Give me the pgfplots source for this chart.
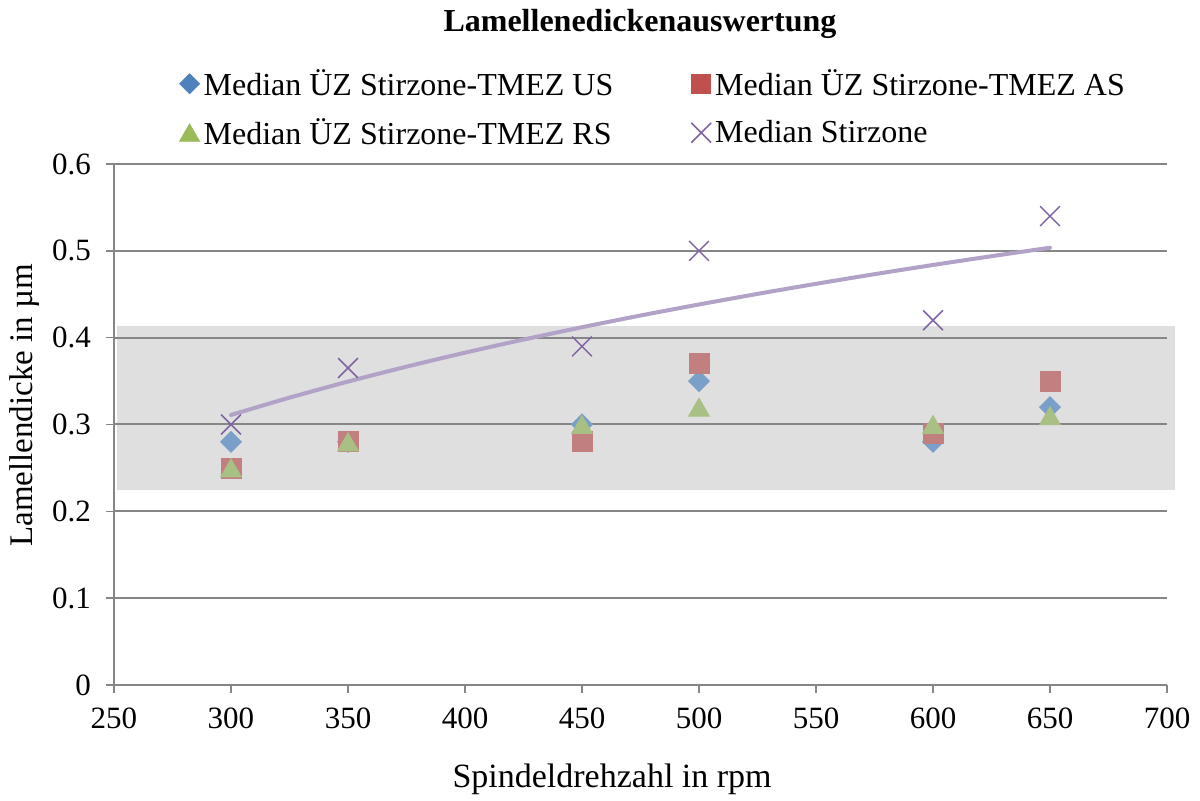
\documentclass[border=0pt]{standalone}
\usepackage{pgfplots}
\pgfplotsset{compat=1.18}
\usepackage{fontspec}
\setmainfont{Liberation Serif}
\definecolor{cUS}{RGB}{122,159,200}
\definecolor{cAS}{RGB}{194,127,127}
\definecolor{cRS}{RGB}{168,192,131}
\definecolor{cST}{RGB}{128,100,162}
\definecolor{lUS}{RGB}{79,129,189}
\definecolor{lAS}{RGB}{192,80,77}
\definecolor{lRS}{RGB}{155,187,89}
\definecolor{trend}{RGB}{179,162,199}
\definecolor{band}{RGB}{223,223,223}
\definecolor{gridc}{RGB}{134,134,134}
\begin{document}
\begin{tikzpicture}
\begin{axis}[
  at={(0,0)}, anchor=south west,
  scale only axis, width=526.5pt, height=260.5pt,
  set layers,
  clip=false,
  xmin=250, xmax=700, ymin=0, ymax=0.6,
  xtick={250,300,...,700},
  ytick={0,0.1,...,0.6},
  axis x line=bottom, axis y line=left,
  axis line style={-, draw=gridc, line width=1pt},
  tick align=outside,
  major tick length=4pt,
  tick style={draw=gridc, line width=0.8pt},
  ymajorgrids, grid style={draw=gridc, line width=1pt},
  /pgf/number format/assume math mode=true,
  ticklabel style={font=\fontsize{15.5}{18}\selectfont},
  yticklabel style={/pgf/number format/fixed, /pgf/number format/precision=1, xshift=-4pt},
  xticklabel style={yshift=-4pt},
  title={\textbf{Lamellenedickenauswertung}},
  title style={font=\fontsize{16}{18}\selectfont, at={(axis description cs:0.4995,1.2457)}, anchor=center},
  xlabel={Spindeldrehzahl in rpm},
  xlabel style={font=\fontsize{17}{20}\selectfont, at={(axis description cs:0.473,-0.182)}, anchor=center},
  ylabel={Lamellendicke in \textmu m},
  ylabel style={font=\fontsize{16.5}{20}\selectfont, at={(axis description cs:-0.0845,0.537)}, anchor=center},
  legend columns=2,
  legend style={draw=none, fill=none, font=\fontsize{16}{19}\selectfont,
    at={(axis description cs:0.513,1.107)}, anchor=center,
    /tikz/every even column/.append style={column sep=37pt},
    row sep=6pt, inner sep=0pt},
  legend cell align=left,
]
% band
\addplot[on layer=axis background, fill=band, draw=none, forget plot]
  coordinates {(251.3,0.2246) (703.4,0.2246) (703.4,0.4135) (251.3,0.4135)} -- cycle;
% legend images
\addlegendimage{only marks, mark=square*, mark options={rotate=45, fill=lUS, draw=lUS}, mark size=3.5pt}
\addlegendentry{Median ÜZ Stirzone-TMEZ US}
\addlegendimage{only marks, mark=square*, mark options={fill=lAS, draw=lAS}, mark size=4.8pt}
\addlegendentry{Median ÜZ Stirzone-TMEZ AS}
\addlegendimage{only marks, mark=triangle*, mark options={fill=lRS, draw=lRS, yshift=-1.4pt}, mark size=5.8pt}
\addlegendentry{Median ÜZ Stirzone-TMEZ RS}
\addlegendimage{only marks, mark=x, mark options={draw=cST, line width=0.75pt}, mark size=7pt}
\addlegendentry{Median Stirzone}
% data
\addplot[forget plot, only marks, mark=square*, mark options={rotate=45, fill=cUS, draw=cUS}, mark size=3.7pt]
  coordinates {(300,0.28) (350,0.28) (450,0.30) (500,0.35) (600,0.28) (650,0.32)};
\addplot[forget plot, only marks, mark=square*, mark options={fill=cAS, draw=cAS}, mark size=5pt]
  coordinates {(300,0.25) (350,0.28) (450,0.28) (500,0.37) (600,0.29) (650,0.35)};
\addplot[forget plot, only marks, mark=triangle*, mark options={fill=cRS, draw=cRS, yshift=-1.5pt}, mark size=6pt]
  coordinates {(300,0.25) (350,0.28) (450,0.30) (500,0.32) (600,0.30) (650,0.31)};
\addplot[forget plot, only marks, mark=x, mark options={draw=cST, line width=0.75pt}, mark size=7pt]
  coordinates {(300,0.30) (350,0.365) (450,0.39) (500,0.50) (600,0.42) (650,0.54)};
% logarithmic trend line
\addplot[forget plot, trend, line width=2pt, smooth, line cap=round]
  coordinates {(300,0.3110) (325,0.3309) (350,0.3494) (375,0.3666) (400,0.3827)
  (425,0.3978) (450,0.4120) (475,0.4255) (500,0.4382) (525,0.4504) (550,0.4620)
  (575,0.4731) (600,0.4837) (625,0.4938) (650,0.5036)};
\end{axis}
\pgfresetboundingbox
\path[use as bounding box] (-57pt,-58pt) rectangle (543pt,342.5pt);
\end{tikzpicture}
\end{document}
